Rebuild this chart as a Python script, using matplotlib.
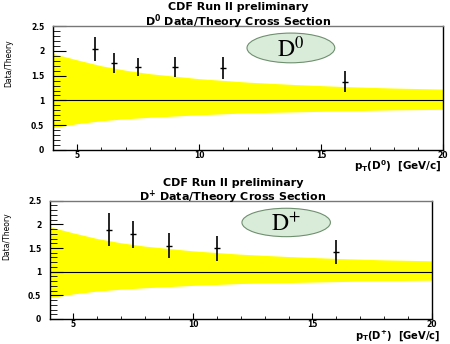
import numpy as np
import matplotlib
matplotlib.use("Agg")
import matplotlib.pyplot as plt
from matplotlib.patches import Ellipse
from matplotlib.ticker import MultipleLocator

# Theory uncertainty band (relative), sampled at pT values
band_pt = [4, 5, 6, 7, 8, 10, 12, 14, 16, 18, 20]
band_hi = [1.95, 1.82, 1.70, 1.61, 1.54, 1.44, 1.37, 1.32, 1.28, 1.25, 1.23]
band_lo = [0.45, 0.53, 0.59, 0.63, 0.66, 0.71, 0.75, 0.77, 0.79, 0.81, 0.82]

# D0 data/theory
d0_pt = [5.75, 6.5, 7.5, 9.0, 11.0, 16.0]
d0_val = [2.04, 1.76, 1.68, 1.68, 1.65, 1.38]
d0_err = [0.24, 0.20, 0.18, 0.20, 0.22, 0.21]

# D+ data/theory
dp_pt = [6.5, 7.5, 9.0, 11.0, 16.0]
dp_val = [1.89, 1.79, 1.55, 1.49, 1.42]
dp_err = [0.34, 0.29, 0.26, 0.27, 0.25]

yticks = [0, 0.5, 1, 1.5, 2, 2.5]
ytick_labels = ["0", "0.5", "1", "1.5", "2", "2.5"]
xticks = [5, 10, 15, 20]
xtick_labels = ["5", "10", "15", "20"]

fig = plt.figure(figsize=(4.5, 3.44), dpi=100)
fig.patch.set_facecolor("white")

tfont = dict(family="DejaVu Sans", fontweight="bold")

def fy(px):
    return 1 - px / 344.0

panels = [
    dict(rect=[0.117, 0.564, 0.867, 0.360], pt=d0_pt, val=d0_val, err=d0_err,
         title2=r"D$^{\mathbf{0}}$ Data/Theory Cross Section",
         xlabel=r"p$_{\mathbf{T}}$(D$^{\mathbf{0}}$)  [GeV/c]",
         lab=r"$\mathrm{D}^{\mathrm{0}}$", ell=(13.77, 2.06, 3.6, 0.6),
         t1x=0.529, t1y=fy(7.5), t2x=0.529, t2y=fy(21.5), xlx=0.982, xly=fy(166.5),
         xfs=7.5),
    dict(rect=[0.110, fy(319.0), 0.850, (319.0 - 200.7) / 344.0], pt=dp_pt,
         val=dp_val, err=dp_err,
         title2=r"D$^{\mathbf{+}}$ Data/Theory Cross Section",
         xlabel=r"p$_{\mathbf{T}}$(D$^{\mathbf{+}}$)  [GeV/c]",
         lab=r"$\mathrm{D}^{+}$", ell=(13.9, 2.04, 3.7, 0.6),
         t1x=0.519, t1y=fy(183), t2x=0.516, t2y=fy(197), xlx=0.978, xly=fy(336.0),
         xfs=7.2),
]

for p in panels:
    ax = fig.add_axes(p["rect"])
    ax.fill_between(band_pt, band_lo, band_hi, color="#ffff00", lw=0, zorder=1)
    ax.axhline(1.0, color="black", lw=0.8, zorder=2)
    ax.errorbar(p["pt"], p["val"], yerr=p["err"], fmt="_", color="black",
                ms=5, mew=1.0, elinewidth=1.2, capsize=0, zorder=3)
    ax.set_xlim(4, 20)
    ax.set_ylim(0, 2.5)
    ax.set_yticks(yticks)
    ax.set_yticklabels(ytick_labels)
    ax.set_xticks(xticks)
    ax.set_xticklabels(xtick_labels)
    ax.yaxis.set_minor_locator(MultipleLocator(0.1))
    ax.xaxis.set_minor_locator(MultipleLocator(1))
    ax.tick_params(axis="y", which="major", direction="in", length=9, width=0.8,
                   labelsize=5.5, pad=6)
    ax.tick_params(axis="y", which="minor", direction="in", length=5, width=0.6)
    ax.tick_params(axis="x", which="major", direction="in", length=4, width=0.8,
                   labelsize=5.5, pad=0.8)
    ax.tick_params(axis="x", which="minor", direction="in", length=2, width=0.6)
    for lab in ax.get_xticklabels() + ax.get_yticklabels():
        lab.set_fontweight("bold")
        lab.set_family("DejaVu Sans")
    for s in ax.spines.values():
        s.set_linewidth(1.0)
    ax.spines["top"].set_color("#777777")
    ex, ey, ew, eh = p["ell"]
    ax.add_patch(Ellipse((ex, ey), ew, eh, facecolor="#d9ecd9",
                         edgecolor="#6f8f6f", lw=0.8, zorder=4))
    ax.text(ex, ey - 0.02, p["lab"], fontsize=17,
            ha="center", va="center", zorder=5, math_fontfamily="stix")
    ax.set_ylabel("Data/Theory", family="Liberation Sans Narrow", fontsize=5.5)
    ax.yaxis.set_label_coords(-0.10, 0.70)
    fig.text(p["t1x"], p["t1y"], "CDF Run II preliminary", ha="center",
             va="center", fontsize=8, **tfont)
    fig.text(p["t2x"], p["t2y"], p["title2"], ha="center", va="center",
             fontsize=8, **tfont)
    fig.text(p["xlx"], p["xly"], p["xlabel"], ha="right",
             va="center", fontsize=p["xfs"], **tfont)

fig.savefig("out.png", dpi=100)
